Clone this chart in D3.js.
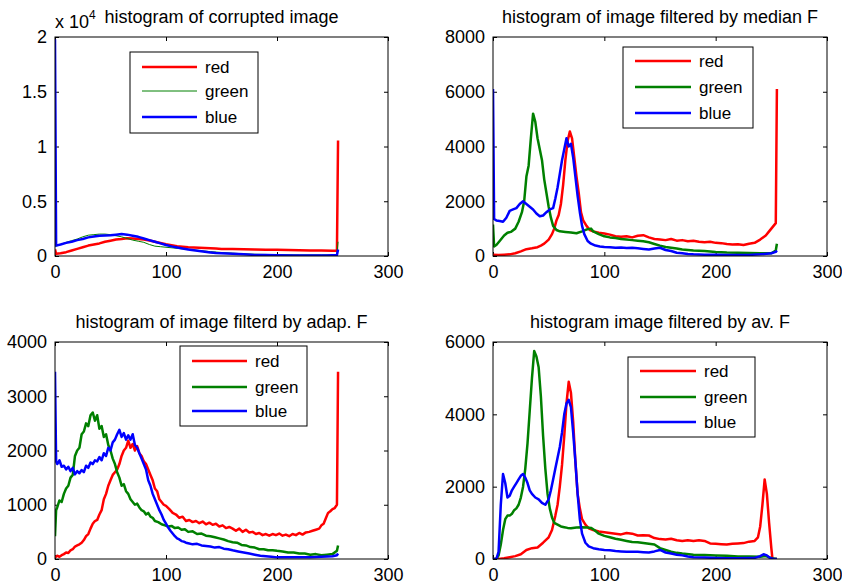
<!DOCTYPE html>
<html>
<head>
<meta charset="utf-8">
<script src="https://cdn.jsdelivr.net/npm/d3@7/dist/d3.min.js"></script>
<style>
  html, body { margin: 0; padding: 0; background: #fff; }
  svg { display: block; }
  text { font-family: "Liberation Sans", Arial, Helvetica, sans-serif; fill: #000; }
</style>
</head>
<body>
<svg id="chart" width="842" height="587"></svg>
<script>
// ---------- DATA ----------
const panelTitles = [
  "histogram of corrupted image",
  "histogram of image filtered by median F",
  "histogram of image filterd by adap. F",
  "histogram image filtered by av. F"
];
const seriesNames = ["red", "green", "blue"];
const xTicks = [0, 100, 200, 300];
const yTicks1 = [0, 5000, 10000, 15000, 20000];
const yTickLabels1 = ["0", "0.5", "1", "1.5", "2"];
const yTicks2 = [0, 2000, 4000, 6000, 8000];
const yTicks3 = [0, 1000, 2000, 3000, 4000];
const yTicks4 = [0, 2000, 4000, 6000];

// panel 1: corrupted image  [bin, count]
const corruptedRed = [[0,600],[1,200],[5,250],[10,350],[15,500],[20,650],[25,800],[30,950],[35,1050],[40,1150],[45,1300],[50,1400],[55,1500],[60,1550],[65,1620],[70,1600],[75,1560],[80,1500],[85,1420],[90,1300],[95,1180],[100,1070],[105,980],[110,900],[115,850],[120,800],[125,780],[130,750],[135,720],[140,700],[145,680],[150,650],[160,630],[170,610],[180,600],[190,580],[200,560],[210,540],[220,520],[230,510],[240,500],[250,480],[254,470],[255,10550]];
const corruptedGreen = [[0,900],[1,900],[5,1050],[10,1250],[15,1400],[20,1550],[25,1750],[30,1900],[35,1950],[40,2000],[45,2000],[50,1950],[55,1850],[60,1750],[65,1600],[70,1450],[75,1350],[80,1250],[85,1050],[90,900],[95,850],[100,800],[110,700],[120,600],[130,500],[140,400],[150,320],[160,260],[170,200],[180,160],[200,120],[220,100],[240,100],[250,110],[254,150],[255,1300]];
const corruptedBlue = [[0,19800],[1,950],[5,1050],[10,1200],[15,1300],[20,1450],[25,1550],[30,1700],[35,1780],[40,1850],[45,1880],[50,1900],[55,1950],[60,2000],[65,1950],[70,1850],[75,1750],[80,1600],[85,1450],[90,1300],[95,1150],[100,1000],[105,880],[110,780],[115,680],[120,600],[125,520],[130,450],[135,390],[140,330],[145,280],[150,250],[160,200],[170,150],[180,100],[190,80],[200,60],[215,50],[230,40],[245,50],[254,80],[255,600]];

// panel 2: median filter
const medianRed = [[0,50],[5,40],[10,50],[15,60],[20,100],[25,170],[30,250],[35,280],[40,320],[43,380],[46,450],[50,600],[53,800],[55,1000],[57,1300],[59,1500],[61,1900],[63,2600],[65,3500],[67,4200],[69,4550],[71,4300],[73,3600],[75,2900],[77,2300],[79,1600],[81,1300],[84,1100],[87,950],[90,900],[95,850],[100,820],[105,780],[110,720],[115,700],[120,720],[125,680],[130,740],[135,760],[140,680],[145,620],[150,600],[155,580],[160,620],[165,560],[170,580],[175,540],[180,560],[185,520],[190,500],[195,520],[200,480],[205,470],[210,440],[215,420],[220,430],[225,400],[230,450],[235,480],[240,600],[245,750],[248,900],[250,1000],[252,1100],[254,1200],[255,6100]];
const medianGreen = [[0,1150],[1,350],[3,400],[6,550],[10,750],[13,850],[16,880],[20,1000],[23,1250],[26,1600],[28,2000],[30,2900],[32,3300],[34,4300],[36,5200],[38,4900],[40,4300],[42,3900],[44,3500],[46,2800],[48,2300],[50,1800],[52,1400],[54,1100],[57,950],[60,900],[65,880],[70,860],[75,830],[80,900],[85,980],[88,1000],[90,900],[95,800],[100,720],[105,680],[110,660],[115,620],[120,600],[125,580],[130,560],[135,540],[140,500],[145,440],[150,380],[155,330],[160,300],[165,270],[170,240],[180,200],[190,180],[200,150],[210,130],[220,120],[230,110],[240,100],[250,100],[254,200],[255,450]];
const medianBlue = [[0,6100],[1,1350],[3,1300],[6,1280],[9,1250],[12,1400],[15,1650],[18,1700],[21,1750],[24,1900],[27,2000],[30,1900],[33,1800],[36,1700],[39,1550],[42,1450],[45,1480],[48,1600],[51,1700],[54,1750],[56,2100],[58,2500],[60,3000],[62,3500],[64,3900],[66,4300],[68,4000],[70,4100],[72,3600],[74,2900],[76,2200],[78,1600],[80,1100],[82,800],[85,550],[88,450],[92,380],[96,350],[100,330],[105,320],[110,300],[115,310],[120,290],[125,300],[130,280],[135,260],[140,240],[145,270],[150,300],[155,220],[160,180],[165,120],[170,100],[175,70],[180,60],[190,50],[200,50],[210,40],[220,40],[230,40],[240,60],[250,100],[254,150],[255,200]];

// panel 3: adaptive filter
const adaptiveRed = [[0,30],[2,60],[4,40],[6,70],[8,90],[10,120],[12,110],[14,160],[16,180],[18,230],[20,250],[22,270],[24,300],[26,350],[28,420],[30,460],[32,560],[34,650],[36,700],[38,720],[40,820],[42,900],[44,1100],[46,1200],[48,1350],[50,1450],[52,1550],[54,1600],[56,1650],[58,1750],[60,1900],[62,2000],[64,2050],[66,2180],[68,2050],[70,2120],[72,2000],[74,2080],[76,1950],[78,1900],[80,1800],[82,1750],[84,1650],[86,1550],[88,1450],[90,1300],[92,1250],[94,1100],[96,1050],[98,1000],[100,980],[103,920],[106,850],[109,820],[112,760],[115,780],[118,700],[121,720],[124,680],[127,700],[130,660],[133,690],[136,640],[139,670],[142,630],[145,650],[148,600],[151,620],[154,570],[157,590],[160,560],[163,520],[166,560],[169,500],[172,540],[175,490],[178,500],[181,460],[184,480],[187,440],[190,460],[193,430],[196,460],[199,440],[202,470],[205,430],[208,450],[211,420],[214,460],[217,440],[220,480],[223,450],[226,490],[229,500],[232,520],[235,540],[238,560],[240,620],[242,650],[244,750],[246,850],[248,880],[250,920],[252,940],[254,1000],[255,3450]];
const adaptiveGreen = [[0,420],[1,900],[2,950],[4,1080],[6,1050],[8,1200],[10,1300],[12,1350],[14,1500],[16,1550],[18,1900],[20,2000],[22,2050],[24,2300],[26,2350],[28,2500],[30,2450],[32,2650],[34,2700],[36,2550],[38,2650],[40,2400],[42,2450],[44,2250],[46,2300],[48,2100],[50,2000],[52,1850],[54,1750],[56,1600],[58,1500],[60,1350],[62,1380],[64,1250],[66,1200],[68,1100],[70,1050],[72,1000],[74,1020],[76,950],[78,900],[80,880],[82,820],[84,850],[86,780],[88,760],[90,700],[93,680],[96,640],[99,620],[102,600],[105,610],[108,570],[111,580],[114,540],[117,550],[120,500],[124,510],[128,460],[132,470],[136,430],[140,420],[144,400],[148,380],[152,360],[156,330],[160,310],[164,300],[168,260],[172,250],[176,220],[180,210],[184,180],[188,180],[192,160],[196,160],[200,150],[205,140],[210,120],[215,120],[220,100],[225,100],[230,80],[235,90],[240,70],[245,80],[250,90],[254,150],[255,250]];
const adaptiveBlue = [[0,3450],[1,1800],[2,1750],[4,1820],[6,1700],[8,1720],[10,1650],[12,1700],[14,1620],[16,1680],[18,1560],[20,1620],[22,1580],[24,1640],[26,1600],[28,1720],[30,1680],[32,1780],[34,1750],[36,1820],[38,1800],[40,1880],[42,1820],[44,1950],[46,1900],[48,2050],[50,2000],[52,2150],[54,2200],[56,2300],[58,2380],[60,2250],[62,2320],[64,2200],[66,2280],[68,2200],[70,2300],[72,2100],[74,2050],[76,1950],[78,1850],[80,1750],[82,1650],[84,1450],[86,1350],[88,1200],[90,1100],[92,1000],[94,900],[96,820],[98,720],[100,650],[102,580],[104,520],[106,470],[108,420],[110,380],[112,360],[114,330],[116,320],[118,300],[120,290],[124,270],[128,280],[132,250],[136,240],[140,230],[144,210],[148,220],[152,190],[156,180],[160,160],[165,140],[170,120],[175,100],[180,80],[185,60],[190,50],[195,40],[200,30],[210,30],[220,30],[230,30],[240,40],[250,50],[254,70],[255,100]];

// panel 4: average filter
const averageRed = [[0,0],[5,0],[10,20],[15,50],[20,80],[25,130],[30,250],[35,300],[40,320],[45,450],[50,600],[53,800],[56,1200],[58,1500],[60,2000],[62,2600],[64,3400],[66,4300],[68,4900],[70,4600],[72,3800],[74,2700],[76,1800],[78,1400],[80,1100],[83,950],[86,850],[90,800],[95,760],[100,740],[105,720],[110,700],[115,680],[120,720],[125,700],[130,650],[135,660],[140,650],[145,580],[150,550],[155,540],[160,560],[165,520],[170,500],[175,520],[180,500],[185,520],[190,500],[195,430],[200,420],[205,410],[210,400],[215,420],[220,430],[225,440],[230,480],[235,500],[238,600],[240,900],[242,1500],[244,2200],[246,1800],[248,1000],[250,300],[251,0],[255,0]];
const averageGreen = [[0,0],[3,0],[5,100],[7,400],[9,800],[11,1100],[13,1200],[15,1200],[17,1250],[19,1350],[21,1400],[23,1500],[25,1700],[27,2000],[29,2500],[31,3200],[33,4100],[35,5000],[37,5750],[39,5600],[41,5300],[43,4500],[45,3400],[47,2500],[49,1800],[51,1400],[53,1150],[55,1000],[58,950],[61,900],[64,880],[67,860],[70,850],[75,870],[80,880],[85,870],[88,860],[91,800],[95,700],[100,640],[105,600],[110,560],[115,530],[120,500],[125,470],[130,460],[135,440],[140,420],[145,400],[150,300],[155,250],[160,200],[165,170],[170,150],[180,120],[190,110],[200,100],[210,90],[220,70],[230,70],[240,60],[245,80],[248,50],[250,20],[255,0]];
const averageBlue = [[0,0],[3,0],[5,200],[7,1500],[9,2350],[11,2100],[13,1700],[15,1750],[17,1900],[19,2000],[21,2100],[23,2200],[25,2300],[27,2350],[29,2250],[31,2100],[33,1900],[35,1800],[38,1700],[41,1650],[44,1550],[47,1500],[50,1650],[52,1900],[54,2200],[56,2500],[58,2800],[60,3100],[62,3500],[64,4000],[66,4300],[68,4400],[70,4200],[72,3500],[74,2700],[76,1800],[78,1100],[80,700],[83,450],[86,350],[90,300],[95,270],[100,250],[105,240],[110,220],[115,210],[120,200],[125,200],[130,200],[135,190],[140,180],[145,210],[150,250],[155,180],[160,150],[165,120],[170,100],[175,70],[180,50],[190,40],[200,30],[210,20],[220,20],[230,25],[235,30],[240,80],[243,130],[246,100],[249,30],[252,0],[255,0]];

// ---------- LAYOUT / STYLE ----------
const colors = { red: "#ff0000", green: "#008000", blue: "#0000ff" };
const W = 2.5;
const panels = [
  { title: panelTitles[0], box: [55, 37, 388, 256], yMax: 20000, yTicks: yTicks1, yLabels: yTickLabels1,
    series: [corruptedRed, corruptedGreen, corruptedBlue], widths: [W, 1, W],
    legend: { x: 130, y: 52, w: 128, h: 81, rows: [67, 91, 117], lx0: 142, lx1: 197, tx: 205 } },
  { title: panelTitles[1], box: [493, 37, 827, 256], yMax: 8000, yTicks: yTicks2,
    series: [medianRed, medianGreen, medianBlue], widths: [W, W, W],
    legend: { x: 623, y: 47, w: 130, h: 81, rows: [61, 87, 113], lx0: 635, lx1: 691, tx: 699 } },
  { title: panelTitles[2], box: [55, 342, 388, 559], yMax: 4000, yTicks: yTicks3,
    series: [adaptiveRed, adaptiveGreen, adaptiveBlue], widths: [W, W, W],
    legend: { x: 180, y: 346, w: 127, h: 80, rows: [361, 387, 411], lx0: 192, lx1: 247, tx: 255 } },
  { title: panelTitles[3], box: [493, 342, 827, 559], yMax: 6000, yTicks: yTicks4,
    series: [averageRed, averageGreen, averageBlue], widths: [W, W, W],
    legend: { x: 628, y: 357, w: 127, h: 80, rows: [371, 397, 422], lx0: 640, lx1: 696, tx: 704 } }
];

const svg = d3.select("#chart");
svg.append("rect").attr("width", 842).attr("height", 587).attr("fill", "#fff");
const FS = 18, TL = 4;

panels.forEach((p, i) => {
  const [x0, y0, x1, y1] = p.box;
  const xs = d3.scaleLinear().domain([0, 300]).range([x0, x1]);
  const ys = d3.scaleLinear().domain([0, p.yMax]).range([y1, y0]);
  const g = svg.append("g");

  const clipId = "clip" + i;
  svg.append("clipPath").attr("id", clipId).append("rect")
    .attr("x", x0).attr("y", y0).attr("width", x1 - x0).attr("height", y1 - y0);

  const bottom = d3.axisBottom(xs).tickValues(xTicks).tickSize(-TL).tickPadding(TL + 5).tickFormat(d3.format("d"));
  const top = d3.axisTop(xs).tickValues(xTicks).tickSize(-TL).tickFormat("");
  const left = d3.axisLeft(ys).tickValues(p.yTicks).tickSize(-TL).tickPadding(TL + 4)
    .tickFormat((d, k) => p.yLabels ? p.yLabels[k] : d3.format("d")(d));
  const right = d3.axisRight(ys).tickValues(p.yTicks).tickSize(-TL).tickFormat("");

  const styleAxis = sel => {
    sel.select(".domain").remove();
    sel.selectAll("line").attr("stroke", "#000").attr("stroke-width", 1);
    sel.selectAll("text").attr("font-size", FS).attr("fill", "#000")
      .attr("font-family", '"Liberation Sans", Arial, sans-serif');
  };
  g.append("g").attr("transform", `translate(0,${y1})`).call(bottom).call(styleAxis);
  g.append("g").attr("transform", `translate(0,${y0})`).call(top).call(styleAxis);
  g.append("g").attr("transform", `translate(${x0},0)`).call(left).call(styleAxis);
  g.append("g").attr("transform", `translate(${x1},0)`).call(right).call(styleAxis);

  const line = d3.line().x(d => xs(d[0])).y(d => ys(d[1]));
  const lines = g.append("g").attr("clip-path", `url(#${clipId})`);
  p.series.forEach((s, k) => {
    lines.append("path").datum(s).attr("d", line)
      .attr("fill", "none").attr("stroke", colors[seriesNames[k]])
      .attr("stroke-width", p.widths[k]).attr("stroke-linejoin", "round");
  });

  g.append("rect").attr("x", x0).attr("y", y0).attr("width", x1 - x0).attr("height", y1 - y0)
    .attr("fill", "none").attr("stroke", "#000").attr("stroke-width", 1);

  g.append("text").attr("x", (x0 + x1) / 2).attr("y", y0 - 14)
    .attr("text-anchor", "middle").attr("font-size", FS).text(p.title);

  const L = p.legend;
  const lg = g.append("g");
  lg.append("rect").attr("x", L.x).attr("y", L.y).attr("width", L.w).attr("height", L.h)
    .attr("fill", "#fff").attr("stroke", "#000").attr("stroke-width", 1);
  seriesNames.forEach((name, k) => {
    lg.append("line").attr("x1", L.lx0).attr("x2", L.lx1).attr("y1", L.rows[k]).attr("y2", L.rows[k])
      .attr("stroke", colors[name]).attr("stroke-width", p.widths[k]);
    lg.append("text").attr("x", L.tx).attr("y", L.rows[k]).attr("dy", "0.35em")
      .attr("font-size", 17).text(name);
  });
});

const ex = svg.append("text").attr("x", 55).attr("y", 28).attr("font-size", FS);
ex.append("tspan").text("x 10");
ex.append("tspan").attr("font-size", 12).attr("dy", -9).text("4");
</script>
</body>
</html>
